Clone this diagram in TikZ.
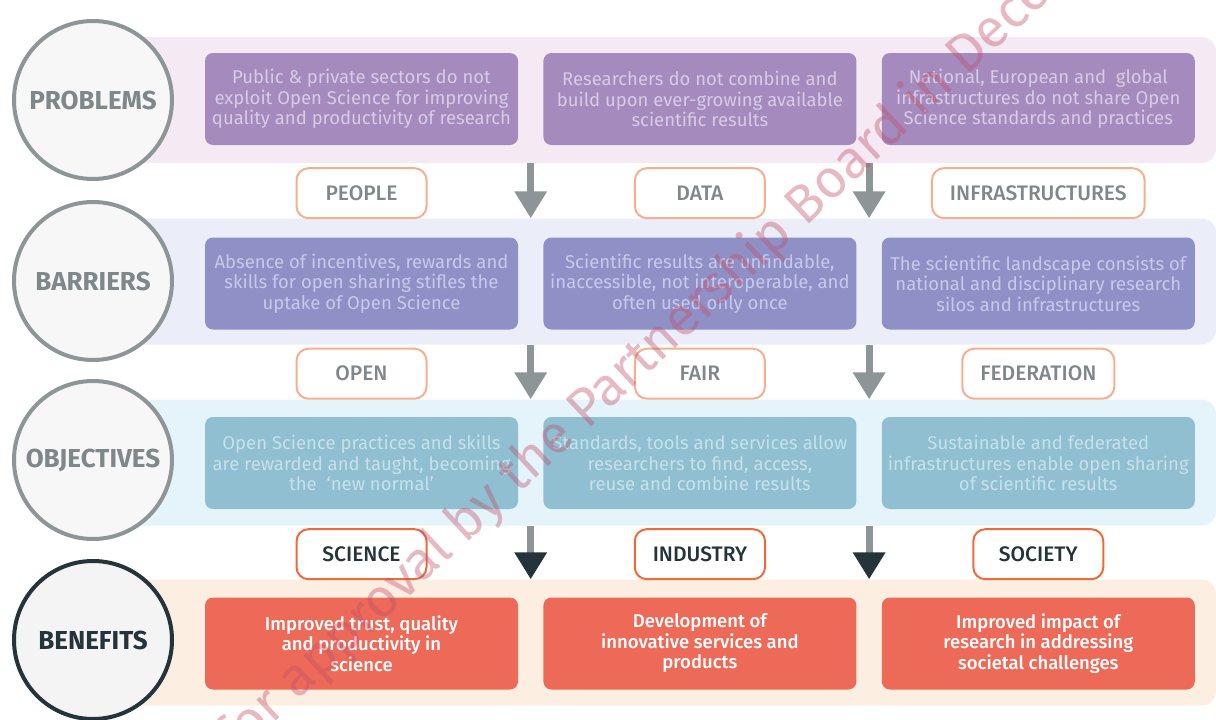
\documentclass[tikz,border=0pt]{standalone}
\usepackage{fontspec}
\setmainfont{Fira Sans}
\newfontfamily\medfont{Fira Sans Medium}
\usetikzlibrary{arrows.meta,positioning,calc}

\definecolor{probband}{HTML}{F5EAF4}
\definecolor{barrband}{HTML}{EBEEF8}
\definecolor{objband}{HTML}{E5F3FA}
\definecolor{benband}{HTML}{FDEEE2}
\definecolor{probfill}{HTML}{A48ABD}
\definecolor{probtext}{HTML}{D8CBE6}
\definecolor{barrfill}{HTML}{8F90C6}
\definecolor{barrtext}{HTML}{C8C9EA}
\definecolor{objfill}{HTML}{8FBFD1}
\definecolor{objtext}{HTML}{C6E1EB}
\definecolor{benfill}{HTML}{EE6A58}
\definecolor{ringgray}{HTML}{8E9597}
\definecolor{ringfill}{HTML}{F7F7F7}
\definecolor{benring}{HTML}{F4F4F4}
\definecolor{darkslate}{HTML}{25343B}
\definecolor{softorange}{HTML}{F7AE8F}
\definecolor{strongorange}{HTML}{EE6A3A}
\definecolor{taggray}{HTML}{80878A}
\definecolor{stamp}{HTML}{C0506A}

\begin{document}
\begin{tikzpicture}[
    x=1pt, y=-1pt,
    band/.style={rounded corners=14pt, minimum width=1086pt,
                 minimum height=126pt, inner sep=0pt},
    stage/.style={circle, draw=ringgray, line width=4pt, fill=ringfill,
                  minimum size=158pt, inner sep=0pt, text=taggray,
                  font=\fontsize{26}{30}\selectfont\bfseries},
    cell/.style={rounded corners=8pt, minimum width=313pt,
                 minimum height=92pt, inner sep=0pt, align=center,
                 font=\fontsize{18.5}{20.5}\selectfont},
    gain/.style={cell, fill=benfill, text=white,
                 font=\medfont\fontsize{18.5}{20.5}\selectfont},
    tag/.style={draw=softorange, line width=2pt, fill=white,
                rounded corners=12pt, minimum width=130pt,
                minimum height=50pt, inner xsep=18pt, text=taggray,
                font=\medfont\fontsize{21}{24}\selectfont},
    arrow/.style={-{Triangle[width=31pt,length=27pt]}, line width=7pt,
                  draw=ringgray},
  ]
  \useasboundingbox (0,0) rectangle (1216,720);

  \node[band, fill=probband] (bprob) at (673,100) {};
  \node[band, fill=barrband] (bbarr) at (673,281.5) {};
  \node[band, fill=objband] (bobj) at (673,462.5) {};
  \node[band, fill=benband] (bben) at (673,642.5) {};

  \node[stage] (cprob) at (93,100) {PROBLEMS};
  \node[stage] (cbarr) at (93,281) {BARRIERS};
  \node[stage] (cobj) at (93,460) {OBJECTIVES};
  \node[stage, draw=darkslate, fill=benring, text=darkslate] (cben) at (93,640) {BENEFITS};

  \node[cell, fill=probfill, text=probtext] (prob1) at (361.5,99)
    {Public \& private sectors do not\\exploit Open Science for improving\\quality and productivity of research};
  \node[cell, fill=probfill, text=probtext, right=25pt of prob1] (prob2)
    {Researchers do not combine and\\build upon ever-growing available\\scientific results};
  \node[cell, fill=probfill, text=probtext, right=25pt of prob2] (prob3)
    {National, European and~ global\\infrastructures do not share Open\\Science standards and practices};

  \node[cell, fill=barrfill, text=barrtext] (barr1) at (361.5,283.5)
    {Absence of incentives, rewards and\\skills for open sharing stifles the\\uptake of Open Science};
  \node[cell, fill=barrfill, text=barrtext, right=25pt of barr1] (barr2)
    {Scientific results are unfindable,\\inaccessible, not interoperable, and\\often used only once};
  \node[cell, fill=barrfill, text=barrtext, right=25pt of barr2] (barr3)
    {The scientific landscape consists of\\national and disciplinary research\\silos and infrastructures};

  \node[cell, fill=objfill, text=objtext] (obj1) at (361.5,463)
    {Open Science practices and skills\\are rewarded and taught, becoming\\the~ `new normal'};
  \node[cell, fill=objfill, text=objtext, right=25pt of obj1] (obj2)
    {Standards, tools and services allow\\researchers to find, access,\\reuse and combine results};
  \node[cell, fill=objfill, text=objtext, right=25pt of obj2] (obj3)
    {Sustainable and federated\\infrastructures enable open sharing\\of scientific results};

  \node[gain] (ben1) at (361.5,643.5)
    {Improved trust, quality\\and productivity in\\science};
  \node[gain, right=25pt of ben1] (ben2)
    {Development of\\innovative services and\\products};
  \node[gain, right=25pt of ben2] (ben3)
    {Improved impact of\\research in addressing\\societal challenges};

  \node[tag, below=22pt of prob1] (people) {PEOPLE};
  \node[tag, below=22pt of prob2] (data) {DATA};
  \node[tag, below=22pt of prob3] (infra) {INFRASTRUCTURES};
  \node[tag, below=18pt of barr1] (open) {OPEN};
  \node[tag, below=18pt of barr2] (fair) {FAIR};
  \node[tag, below=18pt of barr3] (fed) {FEDERATION};
  \node[tag, draw=strongorange, text=darkslate, below=19pt of obj1] (science) {SCIENCE};
  \node[tag, draw=strongorange, text=darkslate, below=19pt of obj2] (industry) {INDUSTRY};
  \node[tag, draw=strongorange, text=darkslate, below=19pt of obj3] (society) {SOCIETY};

  \coordinate (gapa) at ($(prob1.east)!0.5!(prob2.west)$);
  \coordinate (gapb) at ($(prob2.east)!0.5!(prob3.west)$);

  \draw[arrow] (bprob.south -| gapa) -- (bbarr.north -| gapa);
  \draw[arrow] (bprob.south -| gapb) -- (bbarr.north -| gapb);
  \draw[arrow] (bbarr.south -| gapa) -- (bobj.north -| gapa);
  \draw[arrow] (bbarr.south -| gapb) -- (bobj.north -| gapb);
  \draw[arrow, -{Triangle[width=31pt,length=27pt,color=darkslate]}]
    (bobj.south -| gapa) -- (bben.north -| gapa);
  \draw[arrow, -{Triangle[width=31pt,length=27pt,color=darkslate]}]
    (bobj.south -| gapb) -- (bben.north -| gapb);

  \node[rotate=43, anchor=base west, text=stamp, text opacity=0.4,
        font=\fontsize{54}{58}\selectfont, inner sep=0pt] (stampnote) at (236,758)
    {for approval by the Partnership Board in Dece};
\end{tikzpicture}
\end{document}
